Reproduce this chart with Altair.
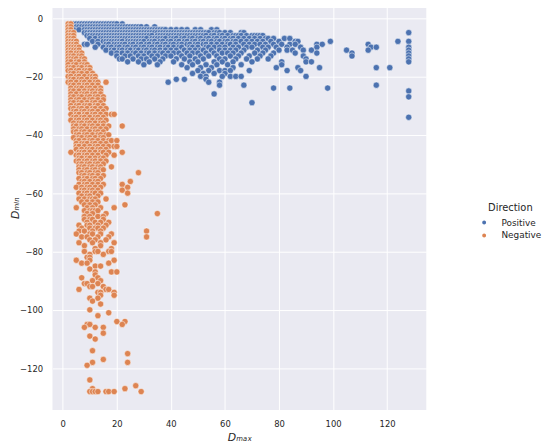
import altair as alt
import pandas as pd

# ---- Positive (blue) points: rows of D_min, with D_max values per row ----
pos_levels = [-2, -3, -4, -5, -6, -7, -8, -9, -10, -11, -12, -13, -14, -15,
              -16, -17, -18, -19, -20, -21, -22, -23, -24, -25, -26, -27, -29, -34]
pos_xs = [
    [3, 4, 5, 6, 7, 8, 9, 10, 11, 12, 13, 14, 15, 16, 17, 18, 19, 20, 22],
    [3, 4, 5, 6, 7, 8, 9, 10, 11, 12, 13, 14, 15, 16, 17, 18, 19, 20, 21, 22, 23, 24, 25, 26, 27, 28, 29, 31, 34],
    [4, 6, 8, 9, 10, 11, 12, 13, 14, 15, 16, 17, 18, 19, 20, 21, 22, 23, 24, 25, 26, 27, 28, 29, 30, 31, 32, 33,
     34, 35, 36, 37, 38, 40, 42, 44, 46, 49, 51, 55, 57],
    [8, 9, 10, 11, 12, 13, 14, 15, 16, 17, 18, 19, 20, 21, 22, 23, 24, 25, 26, 27, 28, 29, 30, 31, 32, 33, 34, 35,
     36, 37, 38, 39, 40, 41, 42, 43, 44, 45, 46, 47, 48, 49, 50, 51, 52, 53, 54, 56, 57, 58, 60, 62, 66, 67, 128],
    [9, 10, 11, 12, 13, 14, 15, 16, 17, 18, 19, 20, 21, 22, 23, 24, 25, 26, 27, 28, 29, 30, 31, 32, 33, 35, 36, 37,
     38, 39, 40, 41, 42, 43, 44, 45, 46, 47, 48, 49, 50, 51, 52, 53, 55, 56, 58, 59, 61, 63, 64, 65, 66, 68, 70,
     71, 72, 73, 74],
    [10, 12, 14, 15, 16, 17, 18, 19, 20, 21, 22, 23, 24, 25, 26, 27, 28, 29, 30, 31, 33, 34, 35, 36, 37, 38, 40,
     41, 42, 44, 45, 47, 48, 50, 51, 53, 54, 56, 57, 59, 60, 62, 63, 65, 67, 69, 71, 73, 75, 76, 78, 82, 84],
    [11, 13, 15, 16, 17, 18, 19, 20, 21, 22, 24, 25, 26, 27, 28, 29, 30, 32, 33, 34, 36, 37, 39, 40, 42, 43, 45,
     46, 48, 49, 51, 52, 54, 55, 57, 58, 60, 61, 63, 64, 66, 68, 70, 72, 74, 77, 80, 86, 87, 99, 124, 128],
    [8, 9, 13, 16, 17, 19, 20, 21, 22, 23, 25, 26, 28, 29, 31, 32, 34, 35, 37, 38, 40, 41, 43, 44, 46, 47, 49, 50,
     52, 53, 55, 57, 59, 61, 62, 64, 67, 69, 71, 73, 75, 78, 81, 84, 86, 94, 96, 113],
    [12, 15, 17, 18, 20, 21, 23, 24, 26, 27, 29, 30, 32, 33, 35, 36, 38, 39, 41, 43, 44, 47, 48, 50, 53, 54, 56,
     58, 60, 63, 65, 68, 70, 74, 76, 79, 83, 88, 94, 114, 116, 128],
    [16, 18, 19, 21, 22, 24, 25, 27, 28, 30, 31, 33, 34, 36, 38, 40, 42, 45, 47, 49, 51, 52, 55, 58, 60, 62, 64,
     67, 72, 75, 80, 83, 85, 89, 92, 105, 113, 128],
    [18, 20, 22, 24, 26, 27, 29, 31, 32, 34, 36, 37, 39, 41, 43, 46, 48, 50, 53, 56, 59, 61, 63, 66, 71, 74, 78,
     86, 94, 107, 128],
    [20, 23, 25, 28, 30, 33, 35, 38, 40, 44, 47, 51, 54, 57, 62, 65, 69, 73, 77, 89, 107, 128],
    [21, 22, 26, 29, 31, 34, 37, 42, 45, 49, 52, 58, 60, 64, 68, 72, 76, 90, 128],
    [24, 28, 32, 36, 41, 47, 50, 56, 59, 63, 70, 81, 90, 92, 128],
    [30, 35, 44, 48, 53, 57, 61, 66, 81],
    [46, 51, 55, 63, 79, 87, 95, 116, 121],
    [50, 54, 58, 60, 62, 69, 83, 88],
    [48, 52, 56, 60],
    [51, 53, 59, 62, 64, 66, 90],
    [42, 45, 53],
    [39, 54, 58],
    [58, 67, 116],
    [78, 84, 98],
    [128],
    [56],
    [128],
    [70],
    [128],
]

# ---- Negative (orange) points ----
neg_levels = [-2, -3, -4, -5, -6, -7, -8, -9, -10, -11, -12, -13, -14, -15, -16, -17, -18, -19, -20,
              -21, -22, -23, -24, -25, -26, -27, -28, -29, -30, -31, -32, -33, -34, -35, -36, -37, -38,
              -39, -40, -41, -42, -43, -44, -45, -46, -47, -48, -49, -50, -51, -52, -53, -54, -55, -56,
              -57, -58, -59, -60, -61, -62, -63, -64, -65, -66, -67, -68, -69, -70, -71, -72, -73, -74,
              -75, -76, -77, -78, -79, -80, -81, -82, -83, -84, -85, -86, -87, -88, -89, -90, -91, -92,
              -93, -94, -95, -96, -97, -98, -100, -101, -102, -104, -105, -106, -108, -109, -110, -114,
              -115, -117, -118, -119, -124, -126, -127, -128]
neg_xs = [
    [2, 3], [2, 3], [2, 3], [2, 3, 4], [2, 3, 4], [2, 3, 4], [2, 3, 4, 5], [2, 3, 4, 5],
    [2, 3, 4, 5, 6], [2, 3, 4, 5, 6], [2, 3, 5, 6, 7], [2, 3, 4, 6, 7], [2, 3, 4, 5, 7, 8],
    [2, 3, 5, 6, 8], [2, 4, 5, 7, 8, 9], [2, 3, 4, 6, 7, 9, 10], [2, 3, 5, 6, 8, 9, 10],
    [3, 4, 6, 7, 9, 11], [2, 3, 5, 6, 8, 10, 11, 12], [3, 4, 6, 7, 9, 11, 12],
    [2, 3, 5, 7, 8, 10, 12, 13, 16], [3, 4, 6, 8, 9, 11, 13], [3, 5, 6, 7, 9, 10, 12, 14],
    [3, 4, 6, 8, 10, 11, 13, 14], [3, 5, 7, 8, 9, 11, 12, 14], [3, 4, 6, 7, 9, 10, 12, 13, 15],
    [3, 5, 6, 8, 10, 11, 13, 15], [3, 4, 6, 7, 9, 11, 12, 14], [3, 5, 6, 8, 9, 10, 12, 13, 15],
    [3, 4, 6, 7, 9, 11, 12, 14, 16], [4, 5, 7, 8, 10, 11, 13, 15],
    [3, 5, 6, 8, 9, 11, 12, 14, 16, 18, 19], [4, 5, 7, 8, 10, 12, 13, 15],
    [3, 5, 6, 8, 9, 11, 13, 14, 16], [4, 6, 7, 9, 10, 12, 14, 15],
    [4, 5, 7, 8, 10, 11, 13, 15, 17, 22], [4, 6, 7, 9, 11, 12, 14, 16], [4, 5, 7, 8, 10, 12, 13, 15],
    [5, 6, 8, 9, 11, 13, 14, 16, 17], [4, 6, 7, 9, 10, 12, 14, 15],
    [5, 6, 8, 10, 11, 13, 15, 17, 18, 20], [5, 7, 8, 9, 11, 12, 14, 16],
    [5, 6, 8, 10, 12, 13, 15, 17, 19, 20], [5, 7, 9, 10, 11, 13, 14, 16],
    [3, 6, 7, 8, 10, 12, 14, 15, 17, 22], [5, 6, 8, 9, 11, 13, 16, 19], [6, 7, 9, 10, 12, 14, 15],
    [5, 6, 8, 9, 11, 12, 14, 16], [6, 7, 9, 10, 12, 13, 15], [6, 7, 8, 10, 11, 13, 14, 18],
    [6, 8, 9, 11, 12, 14, 15], [6, 7, 9, 10, 12, 13, 28], [7, 8, 10, 11, 13, 15],
    [6, 8, 9, 11, 12, 14], [7, 8, 10, 12, 13, 25], [6, 8, 9, 11, 13, 15, 22],
    [5, 7, 9, 10, 12, 14, 24], [7, 8, 10, 11, 13, 22], [6, 8, 9, 11, 12, 14, 24],
    [7, 9, 10, 13], [6, 8, 10, 11, 12, 16], [7, 9, 11, 13], [8, 10, 12, 23], [5, 9, 11, 14, 19],
    [8, 10, 11, 12, 13], [9, 11, 16, 35], [8, 10, 13, 15], [8, 10, 11, 15], [9, 12, 14, 17],
    [6, 9, 10, 13, 16], [7, 10, 12, 13, 15], [6, 8, 11, 14, 31], [5, 10, 11, 14, 18],
    [7, 9, 13, 17, 31], [10, 12, 16], [6, 11, 14, 19], [8, 14], [12, 18], [8, 12, 13, 17, 18],
    [10, 15], [9, 10], [5, 10, 19], [7, 9, 17], [12, 14], [10], [12, 18, 20], [12], [7, 13],
    [11, 14], [8, 9, 13], [10, 11, 15], [6, 16, 17], [13, 14, 19], [14, 19], [10, 13], [11],
    [14], [10], [17], [13], [20, 23], [9, 10, 22], [8, 12, 15], [15], [10], [12], [11],
    [24], [15], [11, 24], [9], [10], [27], [11, 23], [10, 11, 12, 13, 16, 17, 19, 29],
]

x_ticks = [0, 20, 40, 60, 80, 100, 120]
y_ticks = [0, -20, -40, -60, -80, -100, -120]
directions = ["Positive", "Negative"]
colors = ["#4C72B0", "#DD8452"]

rows = []
for lvl, xs in zip(pos_levels, pos_xs):
    for xv in xs:
        rows.append({"Dmax": xv, "Dmin": lvl, "Direction": "Positive"})
for lvl, xs in zip(neg_levels, neg_xs):
    for xv in xs:
        rows.append({"Dmax": xv, "Dmin": lvl, "Direction": "Negative"})
df = pd.DataFrame(rows)
df["order"] = range(len(df))

font = "DejaVu Sans"

chart = alt.Chart(df).mark_point(
    filled=True, shape="circle", size=40, stroke="white", strokeWidth=0.5, opacity=1
).encode(
    x=alt.X("Dmax:Q", scale=alt.Scale(domain=[-3.8, 134.5], nice=False, zero=False),
            axis=alt.Axis(values=x_ticks, title="Dₘₐₓ", labelPadding=10, titlePadding=3)),
    y=alt.Y("Dmin:Q", scale=alt.Scale(domain=[-134.3, 4.3], nice=False, zero=False),
            axis=alt.Axis(values=y_ticks, title="Dₘᵢₙ", labelPadding=10, titleX=-32)),
    color=alt.Color("Direction:N", scale=alt.Scale(domain=directions, range=colors),
                    legend=alt.Legend(orient="none", legendX=432, legendY=200, title="Direction",
                                      titleAnchor="middle", symbolSize=30, labelOffset=13,
                                      rowPadding=0, padding=0)),
    order=alt.Order("order:Q"),
).properties(
    width=378, height=409,
    autosize=alt.AutoSizeParams(type="none"),
    padding={"left": 45, "top": -5, "right": 117, "bottom": 35},
).configure_view(
    fill="#EAEAF2", strokeWidth=0
).configure_axis(
    grid=True, gridColor="white", gridWidth=1, domain=False, ticks=False,
    labelFont=font, labelFontSize=8.5, labelColor="#262626",
    titleFont=font, titleFontSize=11, titleColor="#262626",
    titleFontStyle="italic", titleFontWeight="normal",
).configure_legend(
    labelFont=font, labelFontSize=9, labelColor="#262626",
    titleFont=font, titleFontSize=10, titleColor="#262626", titleFontWeight="normal",
)

chart.save("out.html", embed_options={"renderer": "svg", "actions": False})
